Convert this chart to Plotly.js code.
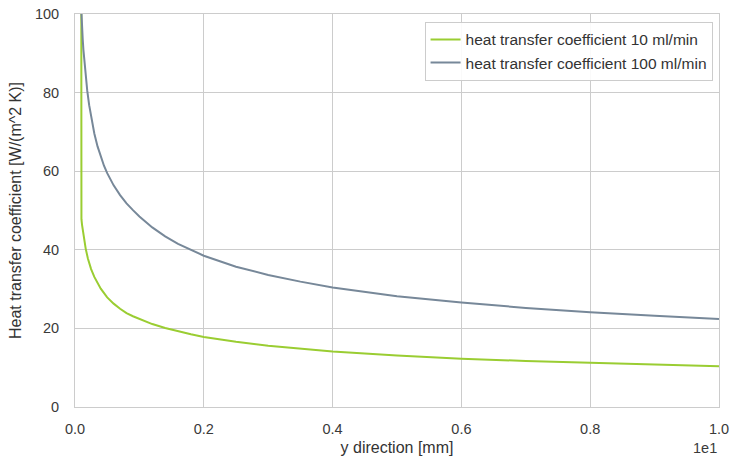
<!DOCTYPE html>
<html>
<head>
<meta charset="utf-8">
<script src="https://cdn.plot.ly/plotly-3.0.1.min.js"></script>
<style>html,body{margin:0;padding:0;background:#fff;}#chart{width:732px;height:461px;}</style>
</head>
<body>
<div id="chart"></div>
<script>
// y direction [mm] (in units of 1e1)
const xGreen = [0.009, 0.0093, 0.01, 0.011, 0.012, 0.014, 0.0166, 0.02, 0.025, 0.03, 0.035, 0.04, 0.05, 0.06, 0.07, 0.08, 0.09, 0.1, 0.12, 0.14, 0.16, 0.18, 0.2, 0.25, 0.3, 0.35, 0.4, 0.5, 0.6, 0.7, 0.8, 0.9, 1.0];
const hGreen = [300, 49, 47.8, 46.3, 45, 42.7, 40.3, 37.8, 35.1, 33.1, 31.4, 30.1, 27.9, 26.3, 25, 23.9, 23.1, 22.4, 21.1, 20.1, 19.2, 18.5, 17.8, 16.6, 15.6, 14.8, 14.1, 13.1, 12.3, 11.7, 11.2, 10.8, 10.4];
const xGray = [0.0098, 0.0102, 0.011, 0.012, 0.013, 0.015, 0.017, 0.019, 0.022, 0.025, 0.03, 0.035, 0.04, 0.045, 0.05, 0.06, 0.07, 0.08, 0.09, 0.1, 0.12, 0.14, 0.16, 0.18, 0.2, 0.25, 0.3, 0.35, 0.4, 0.5, 0.6, 0.7, 0.8, 0.9, 1.0];
const hGray = [101, 99, 96.3, 93.5, 91, 86.8, 83.4, 80.5, 76.8, 73.8, 69.6, 66.3, 63.6, 61.4, 59.5, 56.4, 53.9, 51.8, 50.1, 48.5, 45.7, 43.4, 41.5, 39.9, 38.5, 35.7, 33.6, 31.9, 30.4, 28.2, 26.6, 25.2, 24.1, 23.2, 22.4];
const seriesNames = ["heat transfer coefficient 10 ml/min", "heat transfer coefficient 100 ml/min"];
const xTicks = [0, 0.2, 0.4, 0.6, 0.8, 1.0];
const yTicks = [0, 20, 40, 60, 80, 100];

const FONT = "Liberation Sans, Arial, sans-serif";
const traces = [
  {x: xGreen, y: hGreen, name: seriesNames[0], mode: "lines", line: {color: "#9acd32", width: 2}},
  {x: xGray, y: hGray, name: seriesNames[1], mode: "lines", line: {color: "#778899", width: 2}}
];
const axisCommon = {
  showgrid: true, gridcolor: "#cccccc", gridwidth: 1,
  showline: true, linecolor: "#cccccc", linewidth: 1, mirror: true,
  zeroline: false, ticks: "", automargin: false,
  tickfont: {size: 14.5, color: "#3a3a3a", family: FONT}
};
const layout = {
  width: 732, height: 461,
  margin: {l: 75, r: 13, t: 14, b: 54},
  paper_bgcolor: "#fff", plot_bgcolor: "#fff",
  font: {family: FONT, color: "#333"},
  showlegend: true,
  legend: {x: 0.99, y: 0.98, xanchor: "right", yanchor: "top", bgcolor: "rgba(255,255,255,0.9)", bordercolor: "#cccccc", borderwidth: 1, font: {size: 15.5, color: "#333", family: FONT}, tracegroupgap: 0},
  xaxis: Object.assign({}, axisCommon, {range: [0, 1.0], tickvals: xTicks, tickformat: ".1f", ticklabelstandoff: 9,
    title: {text: "y direction [mm]", font: {size: 16, color: "#333", family: FONT}, standoff: 5}}),
  yaxis: Object.assign({}, axisCommon, {range: [0, 100], tickvals: yTicks, ticklabelstandoff: 12,
    title: {text: "Heat transfer coefficient [W/(m^2 K)]", font: {size: 16, color: "#333", family: FONT}, standoff: 9}}),
  annotations: [{text: "1e1", xref: "paper", yref: "paper", x: 1.0, y: -0.104, xanchor: "right", yanchor: "middle", showarrow: false, font: {size: 14.5, color: "#3a3a3a", family: FONT}}]
};
Plotly.newPlot("chart", traces, layout, {displayModeBar: false, staticPlot: true});
</script>
</body>
</html>
